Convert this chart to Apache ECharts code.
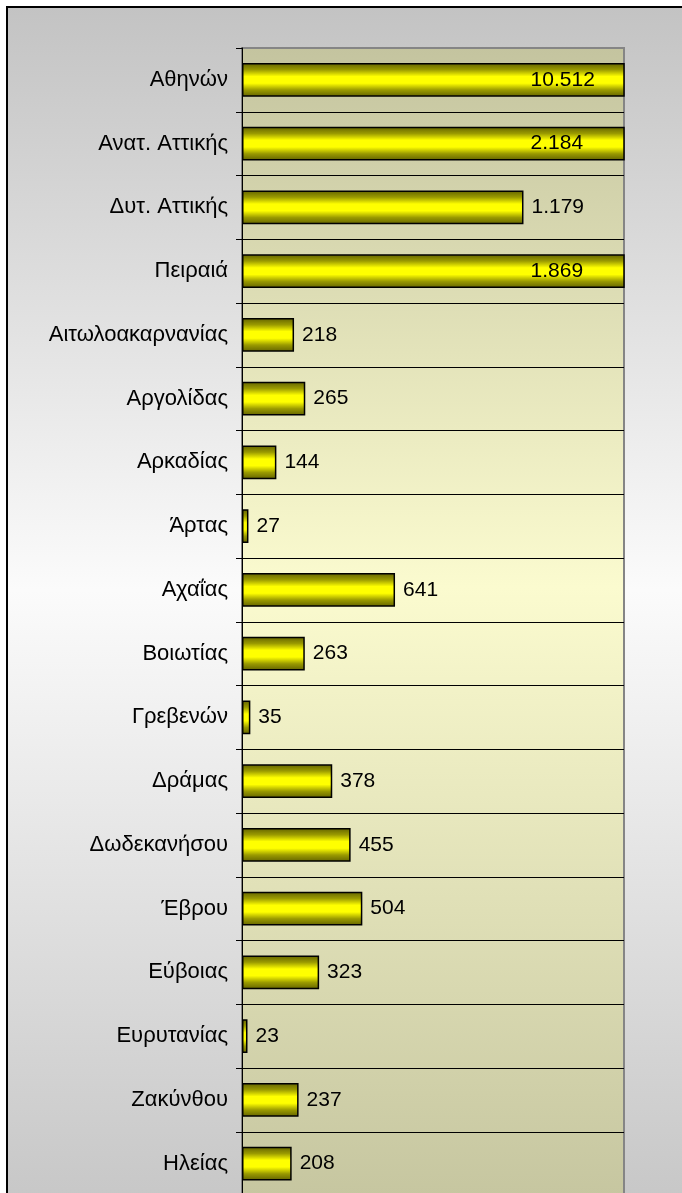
<!DOCTYPE html>
<html>
<head>
<meta charset="utf-8">
<script src="https://cdn.jsdelivr.net/npm/echarts@6/dist/echarts.min.js"></script>
<style>
  html, body { margin: 0; padding: 0; overflow: hidden; background: #fff; }
  #chart { width: 682px; height: 1215px; }
</style>
</head>
<body>
<div id="chart"></div>
<script>
// Νομοί (prefectures) shown top to bottom
const prefectures = [
  'Αθηνών', 'Ανατ. Αττικής', 'Δυτ. Αττικής', 'Πειραιά', 'Αιτωλοακαρνανίας',
  'Αργολίδας', 'Αρκαδίας', 'Άρτας', 'Αχαΐας', 'Βοιωτίας', 'Γρεβενών',
  'Δράμας', 'Δωδεκανήσου', 'Έβρου', 'Εύβοιας', 'Ευρυτανίας', 'Ζακύνθου', 'Ηλείας'
];
const counts = [
  10512, 2184, 1179, 1869, 218,
  265, 144, 27, 641, 263, 35,
  378, 455, 504, 323, 23, 237, 208
];
// value axis range (bars beyond it are cut at the plot edge)
const axisMin = 0;
const axisMax = 1600;

const FONT = '"Liberation Sans", Arial, sans-serif';

// Greek number format: dot as thousands separator
function fmt(v) {
  return String(v).replace(/\B(?=(\d{3})+(?!\d))/g, '.');
}

const barFill = new echarts.graphic.LinearGradient(0, 0, 0, 1, [
  { offset: 0, color: '#626200' },
  { offset: 0.2, color: '#9a9a00' },
  { offset: 0.4, color: '#ffff00' },
  { offset: 0.6, color: '#ffff00' },
  { offset: 0.8, color: '#9a9a00' },
  { offset: 1, color: '#626200' }
]);

const barData = counts.map(function (v) {
  const item = { value: v };
  if (v > axisMax) {
    // value label sits inside the cut-off bar
    item.label = {
      position: ['75.4%', '50%'],
      align: 'left',
      verticalAlign: 'middle'
    };
  }
  return item;
});

const chart = echarts.init(document.getElementById('chart'), null, { renderer: 'canvas' });

chart.setOption({
  animation: false,
  backgroundColor: '#ffffff',
  graphic: [{
    type: 'rect',
    silent: true,
    z: -10,
    shape: { x: 7, y: 7, width: 760, height: 1240 },
    style: {
      stroke: '#000000',
      lineWidth: 2,
      fill: new echarts.graphic.LinearGradient(0, 0, 0, 1, [
        { offset: 0, color: '#c3c3c3' },
        { offset: 0.47, color: '#fbfbfb' },
        { offset: 1, color: '#c3c3c3' }
      ])
    }
  }],
  grid: {
    left: 242,
    top: 48,
    width: 382,
    height: 1147.5,
    show: true,
    borderColor: '#858585',
    borderWidth: 2,
    backgroundColor: new echarts.graphic.LinearGradient(0, 0, 0, 1, [
      { offset: 0, color: '#c4c49f' },
      { offset: 0.47, color: '#fbfbcf' },
      { offset: 1, color: '#c6c6a0' }
    ])
  },
  xAxis: {
    type: 'value',
    min: axisMin,
    max: axisMax,
    show: false,
    splitLine: { show: false }
  },
  yAxis: {
    type: 'category',
    data: prefectures,
    inverse: true,
    boundaryGap: true,
    axisLine: { show: true, lineStyle: { color: '#000000', width: 1 } },
    axisTick: { show: true, length: 6, lineStyle: { color: '#000000', width: 1 } },
    axisLabel: {
      margin: 14,
      fontFamily: FONT,
      fontSize: 22,
      color: '#000000'
    },
    splitLine: {
      show: true,
      showMinLine: false,
      lineStyle: { color: '#000000', width: 1 }
    }
  },
  series: [{
    type: 'bar',
    data: barData,
    barCategoryGap: '47%',
    clip: true,
    itemStyle: {
      color: barFill,
      borderColor: '#000000',
      borderWidth: 1.5
    },
    label: {
      show: true,
      position: 'right',
      distance: 8,
      fontFamily: FONT,
      fontSize: 21,
      color: '#000000',
      formatter: function (p) { return fmt(p.value); }
    }
  }]
});
</script>
</body>
</html>
